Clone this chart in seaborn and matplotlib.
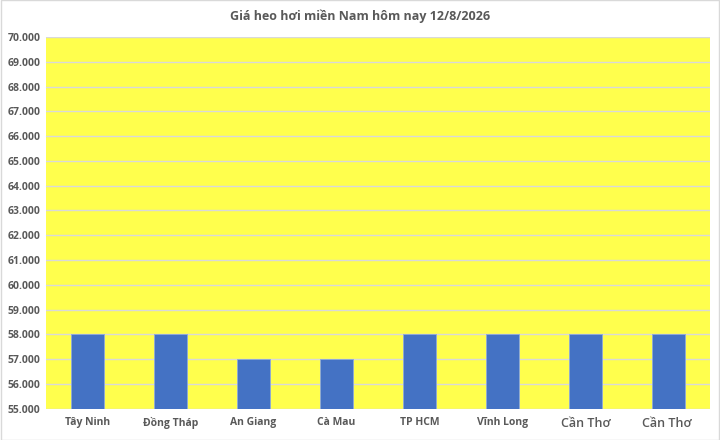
import matplotlib
matplotlib.use("Agg")
import matplotlib.pyplot as plt
import seaborn as sns
import pandas as pd
from matplotlib.ticker import FuncFormatter, MultipleLocator

# Data
provinces = ['Tây Ninh', 'Đồng Tháp', 'An Giang', 'Cà Mau', 'TP HCM', 'Vĩnh Long', 'Cần Thơ', 'Cần Thơ ']
prices = [58000, 58000, 57000, 57000, 58000, 58000, 58000, 58000]
title = 'Giá heo hơi miền Nam hôm nay 12/8/2026'

df = pd.DataFrame({'province': provinces, 'price': prices})

sns.set_style('white')
plt.rcParams['font.family'] = ['Open Sans', 'DejaVu Sans']

fig = plt.figure(figsize=(7.2, 4.4), dpi=100)
ax = fig.add_axes([0.064, 0.071, 0.922, 0.845])
ax.set_facecolor('#FFFF4D')

sns.barplot(data=df, x='province', y='price', color='#4472C4', width=0.4,
            saturation=1, ax=ax, zorder=3, edgecolor='#8EA9DB', linewidth=0.6)

ax.set_ylim(55000, 70000)
ax.yaxis.set_major_locator(MultipleLocator(1000))
ax.yaxis.set_major_formatter(FuncFormatter(lambda v, p: f'{int(v):,}'.replace(',', '.')))
ax.grid(axis='y', color='#D9D9D9', linewidth=1, zorder=0)
ax.set_axisbelow(True)
ax.set_xlabel('')
ax.set_ylabel('')
for s in ax.spines.values():
    s.set_visible(False)
ax.tick_params(axis='both', length=0, colors='#595959', labelsize=7.5, pad=6)
for lbl in ax.get_yticklabels():
    lbl.set_fontweight('bold')
for i, lbl in enumerate(ax.get_xticklabels()):
    lbl.set_fontweight('bold')
    if i >= 6:
        lbl.set_fontsize(9)
        lbl.set_fontweight('semibold')
ax.tick_params(axis='y', pad=4)

fig.text(0.5, 0.962, title, ha='center', va='center', fontsize=9,
         fontweight='bold', color='#595959')

fig.patches.append(plt.Rectangle((0.001, 0.001), 0.998, 0.998, transform=fig.transFigure,
                                 fill=False, edgecolor='#D9D9D9', linewidth=1))

fig.savefig('out.png', dpi=100)
